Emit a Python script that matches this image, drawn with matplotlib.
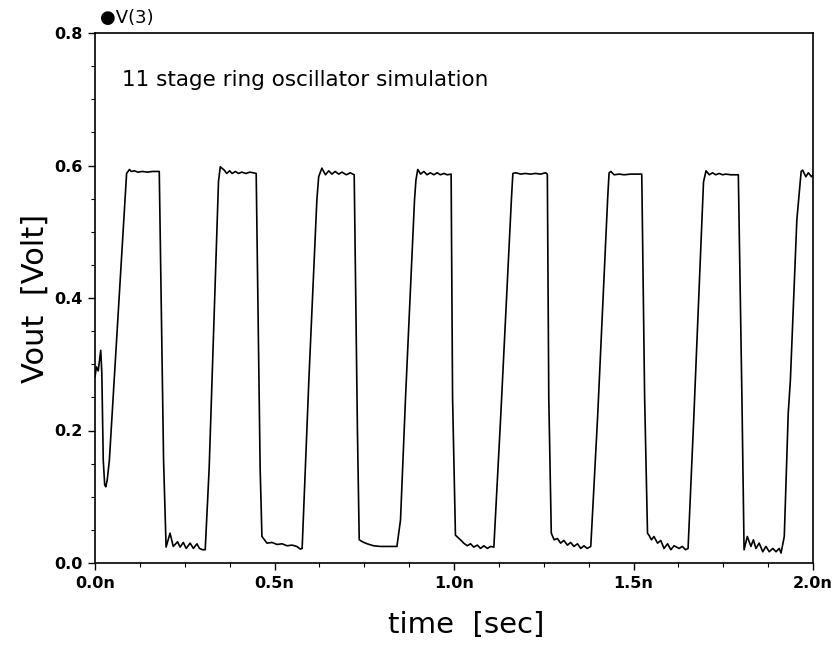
import matplotlib
matplotlib.use("Agg")
import matplotlib.pyplot as plt
from matplotlib.ticker import MultipleLocator, FixedLocator

plt.rcParams['font.family'] = ['DejaVu Sans']

# ---- data (time in ns, voltage in V) ----
time_ns = [
    0.000, 0.004, 0.009, 0.016, 0.019, 0.023, 0.027, 0.030, 0.034,
    0.040, 0.088, 0.096, 0.101, 0.110, 0.119, 0.132, 0.146, 0.160, 0.179,
    0.191, 0.198,
    0.209, 0.218, 0.230, 0.237, 0.246, 0.254, 0.265, 0.274, 0.284, 0.291, 0.300, 0.307,
    0.318, 0.326, 0.344, 0.349,
    0.360, 0.367, 0.375, 0.382, 0.391, 0.400, 0.409, 0.420, 0.432, 0.449,
    0.460, 0.465,
    0.479, 0.493, 0.507, 0.521, 0.535, 0.549, 0.562, 0.572, 0.577,
    0.596, 0.618, 0.623, 0.632,
    0.642, 0.651, 0.660, 0.669, 0.679, 0.688, 0.700, 0.711, 0.722,
    0.731, 0.736,
    0.745, 0.758, 0.776, 0.795, 0.820, 0.841,
    0.851, 0.865, 0.890, 0.894, 0.899,
    0.907, 0.916, 0.925, 0.934, 0.944, 0.953, 0.962, 0.972, 0.981, 0.992,
    0.996, 1.004,
    1.018, 1.027, 1.037, 1.046, 1.055, 1.065, 1.074, 1.083, 1.093, 1.102, 1.111,
    1.130, 1.160, 1.164,
    1.172, 1.186, 1.199, 1.213, 1.227, 1.241, 1.255, 1.260,
    1.264, 1.271,
    1.279, 1.288, 1.297, 1.306, 1.316, 1.325, 1.334, 1.344, 1.353, 1.362, 1.371, 1.381,
    1.400, 1.428, 1.432,
    1.437, 1.446, 1.460, 1.474, 1.492, 1.511, 1.523,
    1.531, 1.539,
    1.543, 1.550, 1.557, 1.567, 1.576, 1.585, 1.595, 1.604, 1.613, 1.627, 1.636, 1.645, 1.652,
    1.668, 1.695, 1.702,
    1.711, 1.720, 1.729, 1.739, 1.748, 1.757, 1.771, 1.792,
    1.802, 1.808,
    1.817, 1.827, 1.834, 1.841, 1.850, 1.860, 1.869, 1.878, 1.888, 1.897, 1.906, 1.911,
    1.920, 1.925, 1.931, 1.937, 1.955, 1.967, 1.971,
    1.980, 1.987, 1.996, 2.000,
]
vout = [
    0.281, 0.296, 0.290, 0.321, 0.287, 0.155, 0.118, 0.115, 0.125,
    0.155, 0.588, 0.594, 0.591, 0.592, 0.590, 0.591, 0.590, 0.591, 0.591,
    0.155, 0.024,
    0.045, 0.025, 0.032, 0.024, 0.031, 0.022, 0.030, 0.022, 0.029, 0.022, 0.020, 0.020,
    0.143, 0.276, 0.576, 0.598,
    0.593, 0.588, 0.592, 0.588, 0.591, 0.588, 0.590, 0.588, 0.590, 0.588,
    0.143, 0.040,
    0.030, 0.031, 0.028, 0.029, 0.026, 0.027, 0.025, 0.021, 0.022,
    0.280, 0.548, 0.583, 0.596,
    0.586, 0.592, 0.587, 0.591, 0.587, 0.590, 0.586, 0.589, 0.586,
    0.200, 0.035,
    0.032, 0.029, 0.026, 0.025, 0.025, 0.025,
    0.065, 0.250, 0.548, 0.578, 0.594,
    0.587, 0.591, 0.586, 0.589, 0.586, 0.589, 0.586, 0.588, 0.586, 0.587,
    0.250, 0.042,
    0.035, 0.030, 0.026, 0.029, 0.024, 0.027, 0.022, 0.026, 0.022, 0.025, 0.024,
    0.220, 0.550, 0.588,
    0.589, 0.587, 0.588, 0.587, 0.588, 0.587, 0.589, 0.587,
    0.250, 0.045,
    0.035, 0.037, 0.030, 0.034, 0.027, 0.031, 0.025, 0.029, 0.022, 0.026, 0.022, 0.025,
    0.220, 0.550, 0.589,
    0.591, 0.586, 0.587, 0.586, 0.587, 0.587, 0.587,
    0.250, 0.045,
    0.042, 0.035, 0.040, 0.030, 0.034, 0.022, 0.029, 0.020, 0.026, 0.022, 0.025, 0.020, 0.022,
    0.220, 0.575, 0.592,
    0.586, 0.589, 0.586, 0.588, 0.586, 0.587, 0.586, 0.586,
    0.250, 0.020,
    0.040, 0.025, 0.035, 0.022, 0.030, 0.017, 0.025, 0.017, 0.022, 0.017, 0.022, 0.015,
    0.040, 0.125, 0.226, 0.276, 0.518, 0.591, 0.593,
    0.583, 0.589, 0.583, 0.586,
]

x_ticks = [0.0, 0.5, 1.0, 1.5, 2.0]
x_tick_labels = ["0.0n", "0.5n", "1.0n", "1.5n", "2.0n"]
y_ticks = [0.0, 0.2, 0.4, 0.6, 0.8]
y_tick_labels = ["0.0", "0.2", "0.4", "0.6", "0.8"]

series_name = "V(3)"
annotation = "11 stage ring oscillator simulation"
x_label = "time  [sec]"
y_label = "Vout  [Volt]"

# ---- figure ----
W, H = 836, 648
fig = plt.figure(figsize=(W / 100, H / 100), dpi=100)
left, right, bottom, top = 95, 813, 563, 33
ax = fig.add_axes([left / W, 1 - bottom / H, (right - left) / W, (bottom - top) / H])

ax.plot(time_ns, vout, color='black', lw=1.2)

ax.set_xlim(0, 2.0)
ax.set_ylim(0, 0.8)
ax.xaxis.set_major_locator(FixedLocator(x_ticks))
ax.set_xticklabels(x_tick_labels, fontweight='bold')
ax.yaxis.set_major_locator(FixedLocator(y_ticks))
ax.set_yticklabels(y_tick_labels, fontweight='bold')
ax.xaxis.set_minor_locator(MultipleLocator(0.125))
ax.yaxis.set_minor_locator(MultipleLocator(0.05))

ax.tick_params(which='major', direction='out', length=5, width=1, labelsize=11.5, pad=4, colors='black')
ax.tick_params(which='minor', direction='out', length=3, width=0.8)
for s in ax.spines.values():
    s.set_linewidth(1.2)
    s.set_color('black')

ax.set_xlabel(x_label, fontsize=21, va='center')
ax.xaxis.set_label_coords((466 - left) / (right - left), -(625 - bottom) / (bottom - top))
ax.set_ylabel(y_label, fontsize=22, va='center', ha='center')
ax.yaxis.set_label_coords((35 - left) / (right - left), (bottom - 298) / (bottom - top))

ax.text((122 - left) / (right - left), (bottom - 80) / (bottom - top), annotation,
        transform=ax.transAxes, fontsize=15.5, ha='left', va='center')

fig.text(100 / W, 1 - 18 / H, "\u25cf" + series_name, fontsize=13, ha='left', va='center')

fig.savefig("out.png", dpi=100, facecolor='white')
